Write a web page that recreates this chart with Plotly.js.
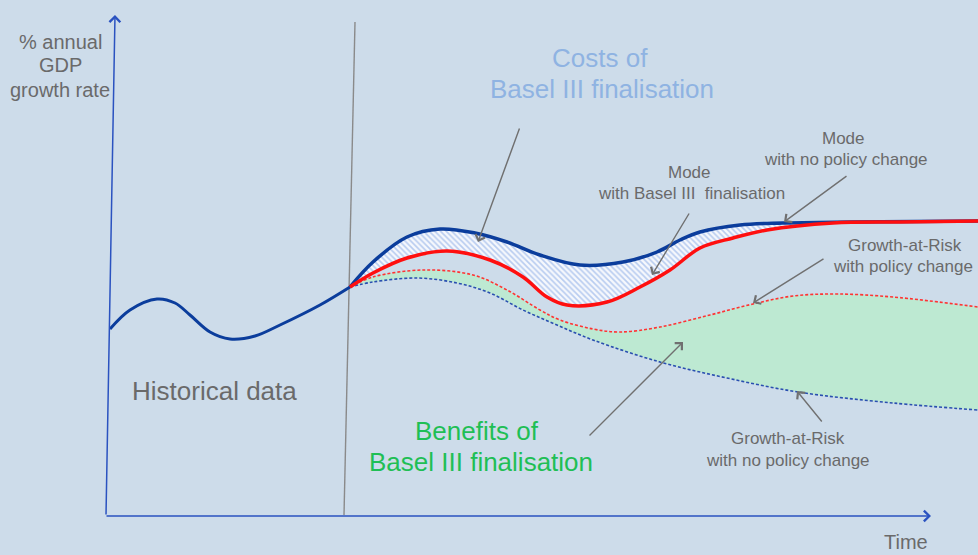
<!DOCTYPE html>
<html>
<head>
<meta charset="utf-8">
<script src="https://cdn.plot.ly/plotly-3.0.1.min.js"></script>
<style>html,body{margin:0;padding:0;background:#cddcea;}#chart{width:978px;height:555px;}</style>
</head>
<body>
<div id="chart"></div>
<script>
// Schematic values (time units, growth units)
const histTime   = [110,130,157,175,190,210,230,255,280,320,350];
const histGrowth = [226,245,256,252,240,223,216,219,230,250,268];

const modeNoPolicyTime   = [350,373,407,440,475,507,540,580,623,657,680,700,740,783,850,978];
const modeNoPolicyGrowth = [268,293,318,326,322,313,300,290,293,303,315,323,330,332,333,334];

const modeBaselTime   = [350,373,407,447,490,523,547,567,607,640,670,700,733,767,833,900,978];
const modeBaselGrowth = [268,282,297,304,295,278,258,250,253,268,285,307,317,325,332,333,334];

const garPolicyTime   = [350,373,423,473,507,540,560,593,620,660,710,753,793,837,893,978];
const garPolicyGrowth = [268,278,285,280,265,245,235,226,223,228,240,251,259,261,258,248];

const garNoPolicyTime   = [350,373,417,457,490,523,557,593,660,727,798,893,978];
const garNoPolicyGrowth = [268,273,277,272,262,245,230,215,193,177,163,152,145];

const FONT = 'Liberation Sans, Arial, sans-serif';
const GREY = '#6a6a6a';

const traces = [
  {x: histTime, y: histGrowth, mode:'lines', line:{color:'#0b3d9c', width:3, shape:'spline'}, hoverinfo:'skip'},
  {x: garNoPolicyTime, y: garNoPolicyGrowth, mode:'lines', line:{color:'#2a4fb0', width:1.6, dash:'3px,2px', shape:'spline'}, hoverinfo:'skip'},
  {x: garPolicyTime, y: garPolicyGrowth, mode:'lines', line:{color:'#ff3333', width:1.6, dash:'3px,2px', shape:'spline'},
   fill:'tonexty', fillcolor:'#bde9d2', hoverinfo:'skip'},
  {x: modeNoPolicyTime, y: modeNoPolicyGrowth, mode:'lines', line:{color:'#0b3d9c', width:3.5, shape:'spline'}, hoverinfo:'skip'},
  {x: modeBaselTime, y: modeBaselGrowth, mode:'lines', line:{color:'#ff0f0f', width:3.5, shape:'spline'},
   fill:'tonexty', fillcolor:'#ffffff',
   fillpattern:{shape:'\\', bgcolor:'#f6f8fd', fgcolor:'#b8ccf0', size:4, solidity:0.4}, hoverinfo:'skip'}
];

function txt(x, y, text, size, color){
  return {x:x, y:y, xref:'x', yref:'y', text:text, showarrow:false, xanchor:'center', yanchor:'middle',
          font:{family:FONT, size:size, color:color}};
}
function arrow(tx, ty, hx, hy, color, width){
  return {x:hx, y:hy, ax:tx, ay:ty, xref:'x', yref:'y', axref:'x', ayref:'y', text:'', showarrow:true,
          arrowhead:4, arrowsize:1.4, arrowwidth:width, arrowcolor:color, standoff:0, startstandoff:0};
}

const annotations = [
  txt(60, 513, '% annual', 20, GREY),
  txt(60, 490, 'GDP', 20, GREY),
  txt(60, 465, 'growth rate', 20, GREY),
  txt(600, 497, 'Costs of', 26, '#8fb3e2'),
  txt(602, 466, 'Basel III finalisation', 26, '#8fb3e2'),
  txt(843, 417, 'Mode', 17, GREY),
  txt(846, 396, 'with no policy change', 17, GREY),
  txt(689, 383, 'Mode', 17, GREY),
  txt(691, 362, 'with Basel III  finalisation', 17, GREY),
  txt(905, 310, 'Growth-at-Risk', 17, GREY),
  txt(903, 289, 'with policy change', 17, GREY),
  txt(214, 164, 'Historical data', 26, GREY),
  txt(477, 124, 'Benefits of', 26, '#1fbf55'),
  txt(481, 93, 'Basel III finalisation', 26, '#1fbf55'),
  txt(788, 117, 'Growth-at-Risk', 17, GREY),
  txt(788, 95, 'with no policy change', 17, GREY),
  txt(906, 13, 'Time', 20, GREY),
  // axes
  arrow(106, 39, 115, 540, '#2a52c0', 1.5),
  arrow(105, 39, 931, 39, '#2a52c0', 1.5),
  // pointer arrows
  arrow(520, 428, 478, 313, '#707070', 1.4),
  arrow(690, 343, 652, 280, '#707070', 1.4),
  arrow(848, 380, 784, 333, '#707070', 1.4),
  arrow(825, 297, 753, 252, '#707070', 1.4),
  arrow(588, 118, 683, 213, '#707070', 1.4),
  arrow(823, 132, 797, 164, '#707070', 1.4)
];

const layout = {
  width:978, height:555,
  margin:{l:0, r:0, t:0, b:0, pad:0},
  paper_bgcolor:'#cddcea', plot_bgcolor:'#cddcea',
  showlegend:false,
  xaxis:{range:[0,978], visible:false, fixedrange:true},
  yaxis:{range:[0,555], visible:false, fixedrange:true},
  shapes:[{type:'line', xref:'x', yref:'y', x0:344, y0:40, x1:355, y1:533, line:{color:'#8a8a8a', width:1.4}, layer:'below'}],
  annotations: annotations
};

Plotly.newPlot('chart', traces, layout, {displayModeBar:false, staticPlot:true});
</script>
</body>
</html>
